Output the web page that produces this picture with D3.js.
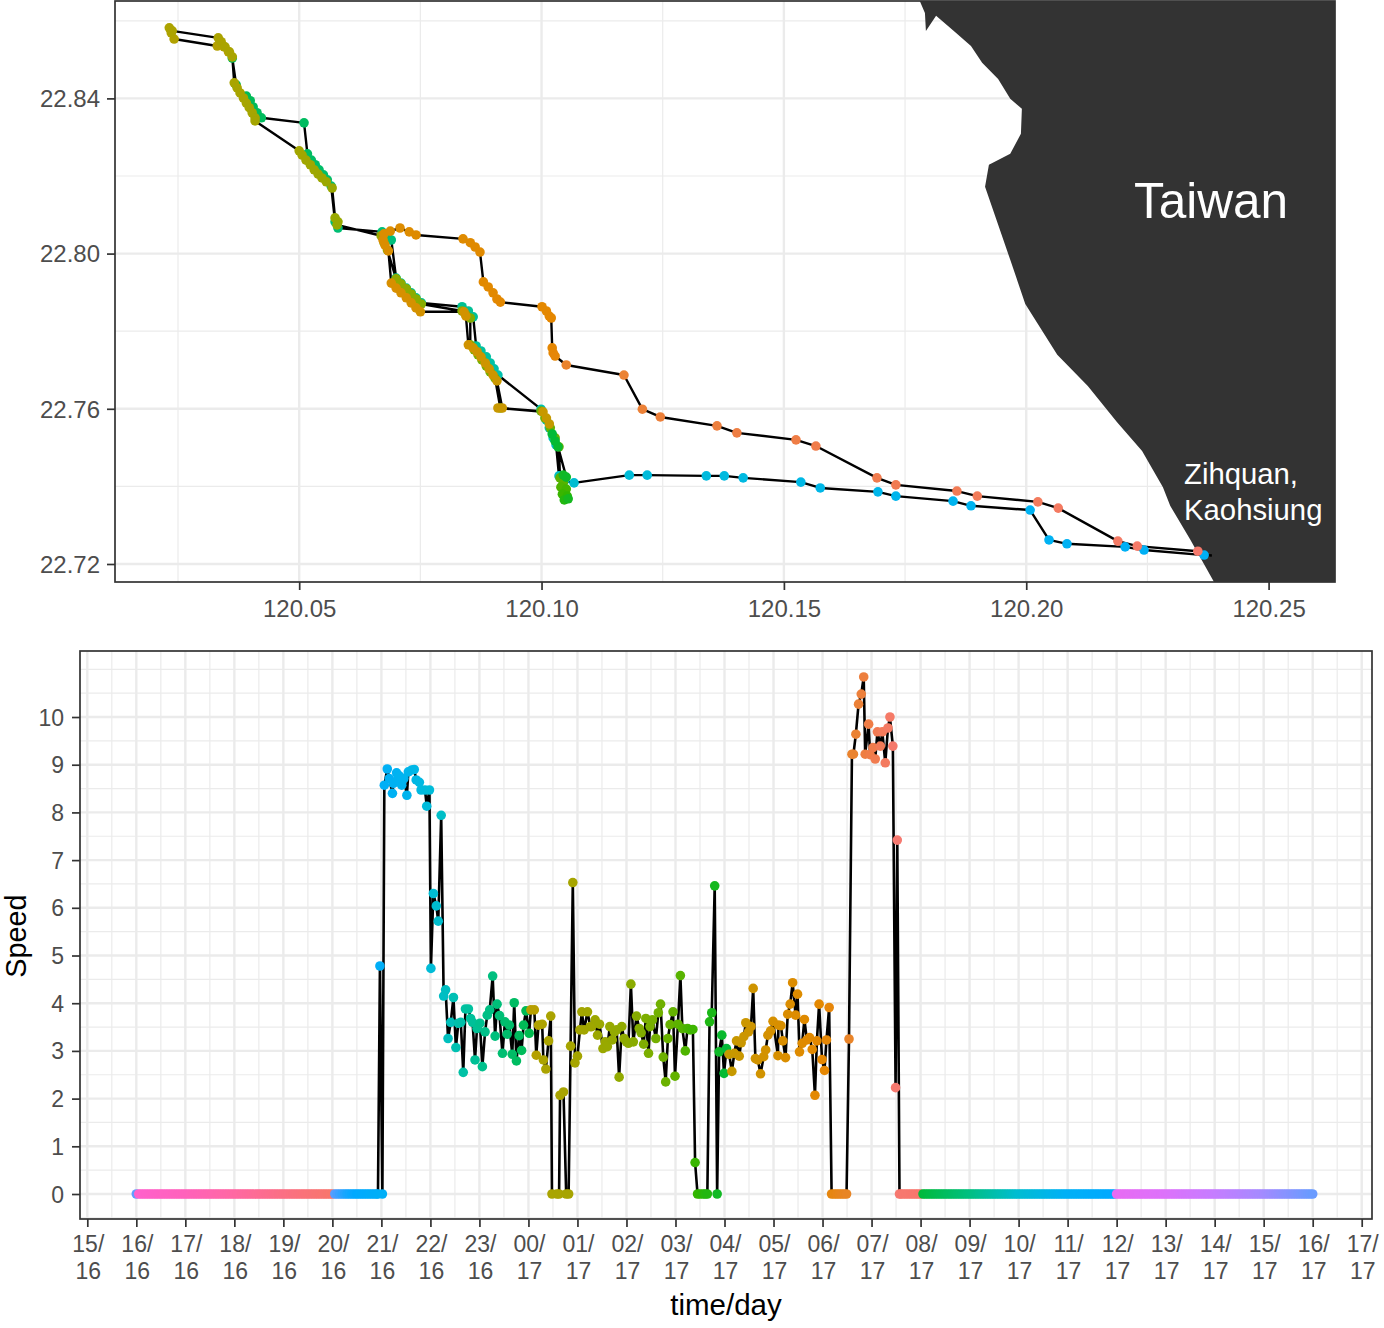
<!DOCTYPE html>
<html>
<head>
<meta charset="utf-8">
<style>
  html, body { margin: 0; padding: 0; background: #fff; }
  svg { display: block; }
  text { font-family: "Liberation Sans", Arial, sans-serif; }
</style>
</head>
<body>
<svg id="chart" width="1384" height="1328"></svg>
<script src="https://cdn.jsdelivr.net/npm/d3@7"></script>
<script>
// tick labels, hour/day
var hourLabels = ["15/","16/","17/","18/","19/","20/","21/","22/","23/","00/","01/","02/","03/","04/","05/","06/","07/","08/","09/","10/","11/","12/","13/","14/","15/","16/","17/"];
var dayLabels = ["16","16","16","16","16","16","16","16","16","17","17","17","17","17","17","17","17","17","17","17","17","17","17","17","17","17","17"];
var lonTicks = [120.05, 120.10, 120.15, 120.20, 120.25];
var latTicks = [22.72, 22.76, 22.80, 22.84];
var speedTicks = [0, 1, 2, 3, 4, 5, 6, 7, 8, 9, 10];

// hours counted from 15:00 on the 16th. colour follows the hour
var colorHours = [1, 1.01, 2, 3, 4, 5, 5.001, 5.3, 5.5, 6.5, 7, 7.7, 8.3, 9.02, 9.021, 9.3, 10, 11, 12, 12.5, 13.05, 13.051, 14, 15, 15.5, 16, 16.5, 17, 17.001, 18, 19, 20, 20.99, 21, 22, 23, 24, 25];
var colorValues = ["#619cff", "#ff61cc", "#ff62bc", "#ff67a4", "#fb6f85", "#f8766d", "#619cff", "#19a6ff", "#00a9ff", "#00b4ef", "#00bcd8", "#00c1a3", "#00bf7d", "#00ba50", "#bb9d00", "#aca300", "#a5a500", "#8fab00", "#62b200", "#2fb600", "#00ba38", "#c49a00", "#d69000", "#e58700", "#e88526", "#f07c4a", "#f67970", "#f8766d", "#00ba38", "#00bf7d", "#00bdd0", "#00b0f6", "#00a9ff", "#e76bf3", "#dd71fa", "#c77cff", "#a58aff", "#6a9bff"];

// coastline of Taiwan
var coastLon = [120.1779, 120.1791, 120.1793, 120.1814, 120.1853, 120.1886, 120.1909, 120.1942, 120.1967, 120.1991, 120.1989, 120.1967, 120.1923, 120.1915, 120.1967, 120.1998, 120.2064, 120.2127, 120.2187, 120.2239, 120.2282, 120.2297, 120.2338, 120.2389, 120.2640, 120.2640];
var coastLat = [22.8655, 22.8620, 22.8574, 22.8613, 22.8571, 22.8535, 22.8492, 22.8450, 22.8399, 22.8373, 22.8309, 22.8257, 22.8229, 22.8172, 22.7984, 22.7870, 22.7739, 22.7659, 22.7566, 22.7491, 22.7398, 22.7350, 22.7264, 22.7150, 22.7150, 22.8655];

// ship track
var trackLon = [120.2367, 120.2243, 120.2204, 120.2084, 120.2047, 120.2008, 120.1886, 120.1849, 120.1731, 120.1694, 120.1575, 120.1535, 120.1416, 120.1377, 120.1340, 120.1218, 120.1181, 120.1067, 120.1047, 120.1036, 120.1030, 120.1024, 120.1016, 120.1010, 120.0999,
  120.0910, 120.0902, 120.0894, 120.0886, 120.0875, 120.0865, 120.0859, 120.0849, 120.0836, 120.0752, 120.0741, 120.0731, 120.0721, 120.0710, 120.0700, 120.0690, 120.0682, 120.0671, 120.0580, 120.0574,
  120.0566, 120.0558, 120.0550, 120.0541, 120.0533, 120.0525, 120.0517, 120.0510, 120.0422, 120.0413, 120.0405, 120.0399, 120.0391, 120.0370, 120.0362, 120.0354, 120.0345, 120.0331, 120.0242, 120.0236, 120.0232, 120.0238,
  120.0333, 120.0339, 120.0347, 120.0356, 120.0362, 120.0366, 120.0372, 120.0378, 120.0385, 120.0391, 120.0397, 120.0403, 120.0409, 120.0409, 120.0500, 120.0506, 120.0514, 120.0523, 120.0531, 120.0539, 120.0547, 120.0556, 120.0568, 120.0574, 120.0580, 120.0578,
  120.0669, 120.0675, 120.0682, 120.0700, 120.0710, 120.0721, 120.0731, 120.0741, 120.0752, 120.0836, 120.0844, 120.0853, 120.0853, 120.0861, 120.0869, 120.0877, 120.0886, 120.0894, 120.0904, 120.0915, 120.0999, 120.1007, 120.1018, 120.1028, 120.1036,
  120.1038, 120.1045, 120.1040, 120.1051, 120.1043, 120.1053, 120.1047, 120.1055, 120.1045, 120.1051, 120.1034, 120.1028, 120.1022, 120.1016, 120.1010, 120.1003, 120.0910, 120.0919,
  120.0908, 120.0900, 120.0892, 120.0884, 120.0875, 120.0867, 120.0859, 120.0849, 120.0844, 120.0840, 120.0750, 120.0741, 120.0731, 120.0721, 120.0710, 120.0700, 120.0690, 120.0684, 120.0677, 120.0673, 120.0675, 120.0688, 120.0708, 120.0727, 120.0741,
  120.0838, 120.0853, 120.0863, 120.0873, 120.0880, 120.0890, 120.0900, 120.0908, 120.0915, 120.1001, 120.1010, 120.1016, 120.1020, 120.1022, 120.1024, 120.1028, 120.1051, 120.1170, 120.1208, 120.1245, 120.1362, 120.1403, 120.1525, 120.1566, 120.1692, 120.1731, 120.1857, 120.1899, 120.2024, 120.2066, 120.2189, 120.2229, 120.2354];
var trackLat = [22.7223, 22.7236, 22.7244, 22.7252, 22.7262, 22.7339, 22.7350, 22.7362, 22.7375, 22.7386, 22.7396, 22.7411, 22.7422, 22.7427, 22.7427, 22.7429, 22.7429, 22.7409, 22.7414, 22.7427, 22.7507, 22.7525, 22.7551, 22.7571, 22.7599,
  22.7687, 22.7703, 22.7718, 22.7734, 22.7749, 22.7762, 22.7837, 22.7852, 22.7863, 22.7873, 22.7886, 22.7899, 22.7911, 22.7924, 22.7937, 22.8035, 22.8046, 22.8056, 22.8066, 22.8082,
  22.8174, 22.8190, 22.8203, 22.8216, 22.8229, 22.8241, 22.8257, 22.8337, 22.8350, 22.8363, 22.8378, 22.8394, 22.8406, 22.8435, 22.8504, 22.8520, 22.8533, 22.8535, 22.8553, 22.8569, 22.8582, 22.8574,
  22.8556, 22.8546, 22.8533, 22.8520, 22.8507, 22.8440, 22.8427, 22.8414, 22.8401, 22.8388, 22.8376, 22.8363, 22.8350, 22.8342, 22.8265, 22.8254, 22.8241, 22.8229, 22.8216, 22.8205, 22.8195, 22.8185, 22.8169, 22.8092, 22.8082, 22.8074,
  22.8046, 22.8028, 22.8009, 22.7935, 22.7922, 22.7909, 22.7896, 22.7883, 22.7870, 22.7852, 22.7842, 22.7834, 22.7765, 22.7752, 22.7739, 22.7726, 22.7710, 22.7695, 22.7679, 22.7602, 22.7594, 22.7576, 22.7551, 22.7525, 22.7502,
  22.7422, 22.7411, 22.7398, 22.7393, 22.7380, 22.7375, 22.7365, 22.7368, 22.7429, 22.7424, 22.7502, 22.7517, 22.7535, 22.7561, 22.7576, 22.7592, 22.7602, 22.7602,
  22.7672, 22.7687, 22.7703, 22.7718, 22.7734, 22.7747, 22.7757, 22.7765, 22.7839, 22.7850, 22.7850, 22.7860, 22.7873, 22.7886, 22.7899, 22.7911, 22.7924, 22.8007, 22.8022, 22.8035, 22.8051, 22.8058, 22.8066, 22.8056, 22.8048,
  22.8038, 22.8028, 22.8017, 22.8004, 22.7927, 22.7914, 22.7899, 22.7883, 22.7875, 22.7863, 22.7852, 22.7839, 22.7834, 22.7757, 22.7744, 22.7736, 22.7713, 22.7687, 22.7599, 22.7579, 22.7556, 22.7538, 22.7520, 22.7504, 22.7422, 22.7404, 22.7388, 22.7375, 22.7360, 22.7344, 22.7259, 22.7246, 22.7233];
var trackHours = [6.05, 6.1, 6.15, 6.22, 6.28, 6.34, 6.42, 6.48, 6.55, 6.6, 6.67, 6.72, 6.8, 6.85, 6.9, 6.95, 7.0, 7.1, 7.15, 7.25, 7.3, 7.35, 7.4, 7.45, 7.5,
  7.55, 7.6, 7.65, 7.7, 7.75, 7.8, 7.85, 7.9, 7.95, 8.0, 8.05, 8.1, 8.15, 8.2, 8.25, 8.3, 8.35, 8.4, 8.45, 8.5,
  8.55, 8.58, 8.61, 8.64, 8.67, 8.7, 8.73, 8.76, 8.79, 8.82, 8.85, 8.88, 8.91, 8.95, 8.98, 9.05, 9.1, 9.15, 9.2, 9.25, 9.3, 9.35,
  9.4, 9.45, 9.5, 9.55, 9.6, 9.65, 9.7, 9.75, 9.8, 9.85, 9.9, 9.95, 10.0, 10.05, 10.1, 10.15, 10.2, 10.25, 10.3, 10.35, 10.4, 10.45, 10.5, 10.55, 10.6, 10.65,
  10.7, 10.8, 10.85, 10.9, 10.95, 11.0, 11.05, 11.1, 11.15, 11.2, 11.25, 11.3, 11.35, 11.4, 11.45, 11.5, 11.55, 11.6, 11.65, 11.7, 11.75, 11.8, 11.85, 11.95, 12.0,
  12.05, 12.1, 12.2, 12.3, 12.4, 12.5, 12.65, 12.8, 12.85, 12.9, 12.95, 13.0, 13.04, 13.1, 13.15, 13.2, 13.25, 13.3,
  13.35, 13.4, 13.45, 13.5, 13.55, 13.6, 13.65, 13.7, 13.75, 13.8, 13.85, 13.9, 13.95, 14.0, 14.05, 14.1, 14.15, 14.2, 14.25, 14.3, 14.35, 14.4, 14.45, 14.5, 14.55,
  14.6, 14.63, 14.66, 14.7, 14.75, 14.78, 14.81, 14.84, 14.87, 14.9, 14.93, 14.96, 15.0, 15.03, 15.06, 15.09, 15.6, 15.68, 15.73, 15.78, 15.84, 15.9, 15.95, 16.0, 16.05, 16.1, 16.15, 16.2, 16.25, 16.3, 16.35, 16.4, 16.45];
// the line runs a little past the last dot at the harbour
var harbourLon = 120.2383;
var harbourLat = 22.7222;

// moored before and after the trip, speed 0
var mooredBefore = [1.00, 1.05, 1.10, 1.15, 1.20, 1.25, 1.30, 1.35, 1.40, 1.45, 1.50, 1.55, 1.60, 1.65, 1.70, 1.75, 1.80, 1.85, 1.90, 1.95, 2.00, 2.05, 2.10, 2.15, 2.20, 2.25, 2.30, 2.35, 2.40, 2.45, 2.50, 2.55, 2.60, 2.65, 2.70, 2.75, 2.80, 2.85, 2.90, 2.95, 3.00, 3.05, 3.10, 3.15, 3.20, 3.25, 3.30, 3.35, 3.40, 3.45, 3.50, 3.55, 3.60, 3.65, 3.70, 3.75, 3.80, 3.85, 3.90, 3.95, 4.00, 4.05, 4.10, 4.15, 4.20, 4.25, 4.30, 4.35, 4.40, 4.45, 4.50, 4.55, 4.60, 4.65, 4.70, 4.75, 4.80, 4.85, 4.90, 4.95, 5.00, 5.05, 5.10, 5.15, 5.20, 5.25, 5.30, 5.35, 5.40, 5.45, 5.50, 5.55, 5.60, 5.65, 5.70, 5.75, 5.80, 5.85, 5.90, 5.93];
var mooredAfter = [16.60, 16.65, 16.70, 16.75, 16.80, 16.85, 16.90, 16.95, 17.00, 17.05, 17.10, 17.15, 17.20, 17.25, 17.30, 17.35, 17.40, 17.45, 17.50, 17.55, 17.60, 17.65, 17.70, 17.75, 17.80, 17.85, 17.90, 17.95, 18.00, 18.05, 18.10, 18.15, 18.20, 18.25, 18.30, 18.35, 18.40, 18.45, 18.50, 18.55, 18.60, 18.65, 18.70, 18.75, 18.80, 18.85, 18.90, 18.95, 19.00, 19.05, 19.10, 19.15, 19.20, 19.25, 19.30, 19.35, 19.40, 19.45, 19.50, 19.55, 19.60, 19.65, 19.70, 19.75, 19.80, 19.85, 19.90, 19.95, 20.00, 20.05, 20.10, 20.15, 20.20, 20.25, 20.30, 20.35, 20.40, 20.45, 20.50, 20.55, 20.60, 20.65, 20.70, 20.75, 20.80, 20.85, 20.90, 20.95, 21.00, 21.05, 21.10, 21.15, 21.20, 21.25, 21.30, 21.35, 21.40, 21.45, 21.50, 21.55, 21.60, 21.65, 21.70, 21.75, 21.80, 21.85, 21.90, 21.95, 22.00, 22.05, 22.10, 22.15, 22.20, 22.25, 22.30, 22.35, 22.40, 22.45, 22.50, 22.55, 22.60, 22.65, 22.70, 22.75, 22.80, 22.85, 22.90, 22.95, 23.00, 23.05, 23.10, 23.15, 23.20, 23.25, 23.30, 23.35, 23.40, 23.45, 23.50, 23.55, 23.60, 23.65, 23.70, 23.75, 23.80, 23.85, 23.90, 23.95, 24.00, 24.05, 24.10, 24.15, 24.20, 24.25, 24.30, 24.35, 24.40, 24.45, 24.50, 24.55, 24.60, 24.65, 24.70, 24.75, 24.80, 24.85, 24.90, 24.95, 25.00];

// speed while under way
var tripHours = [5.97, 6.02, 6.06, 6.12, 6.16, 6.225, 6.245, 6.31, 6.33, 6.37, 6.415, 6.46, 6.52, 6.55, 6.62, 6.67, 6.71, 6.775, 6.81, 6.89, 6.925, 6.98, 7.01, 7.06, 7.12, 7.16, 7.22, 7.27, 7.31, 7.36, 7.415, 7.47, 7.52, 7.57, 7.62, 7.67, 7.715, 7.775, 7.82, 7.86, 7.91, 7.95, 8.01, 8.06, 8.115, 8.16, 8.21, 8.27, 8.32, 8.36, 8.41, 8.47, 8.52, 8.565, 8.61, 8.67, 8.71, 8.755, 8.81, 8.86, 8.90, 8.95, 9.015,
  9.05, 9.12, 9.16, 9.205, 9.28, 9.305, 9.355, 9.41, 9.455, 9.48, 9.58, 9.625, 9.645, 9.715, 9.77, 9.82, 9.86, 9.905, 9.95, 10.0, 10.05, 10.09, 10.135, 10.205, 10.26, 10.29, 10.36, 10.41, 10.45, 10.52, 10.565, 10.61, 10.66, 10.71, 10.755, 10.80, 10.85, 10.905, 10.95, 11.0, 11.04, 11.09, 11.14, 11.205, 11.26, 11.30, 11.35, 11.395, 11.45, 11.48, 11.53, 11.60, 11.65, 11.695, 11.75, 11.80, 11.845, 11.89, 11.95, 11.99, 12.05, 12.10, 12.14, 12.2, 12.245, 12.30, 12.355, 12.40, 12.45, 12.50, 12.56, 12.605, 12.65, 12.695, 12.74, 12.80, 12.85, 12.89, 12.945, 12.99, 13.04,
  13.095, 13.15, 13.20, 13.245, 13.30, 13.34, 13.395, 13.435, 13.49, 13.54, 13.585, 13.63, 13.68, 13.735, 13.80, 13.84, 13.885, 13.94, 13.99, 14.09, 14.10, 14.15, 14.19, 14.245, 14.29, 14.34, 14.39, 14.45, 14.49, 14.53, 14.585, 14.63, 14.68, 14.735, 14.79, 14.845, 14.885, 14.93, 14.99, 15.04, 15.08, 15.135, 15.185, 15.24, 15.29, 15.34, 15.39, 15.44, 15.49, 15.54,
  15.60, 15.63, 15.68, 15.735, 15.79, 15.84, 15.87, 15.94, 15.97, 16.03, 16.075, 16.12, 16.18, 16.22, 16.28, 16.335, 16.375, 16.435, 16.49, 16.525, 16.57];
var tripSpeeds = [4.78, 0, 8.57, 8.91, 8.71, 8.40, 8.61, 8.83, 8.68, 8.76, 8.57, 8.71, 8.36, 8.85, 8.89, 8.90, 8.68, 8.63, 8.47, 8.47, 8.13, 8.47, 4.73, 6.30, 6.04, 5.72, 7.94, 4.15, 4.28, 3.26, 3.60, 4.12, 3.07, 3.58, 3.60, 2.55, 3.88, 3.88, 3.68, 3.60, 2.81, 3.47, 3.58, 2.67, 3.40, 3.75, 3.86, 4.57, 3.31, 3.98, 3.74, 2.95, 3.61, 3.35, 3.54, 2.93, 4.01, 2.79, 3.32, 3.01, 3.54, 3.84, 3.37,
  3.86, 3.86, 2.91, 3.54, 3.56, 2.81, 2.62, 3.21, 3.73, 0, 0, 0, 2.07, 2.14, 0, 0, 3.10, 6.53, 2.75, 2.89, 3.44, 3.82, 3.44, 3.82, 3.51, 3.51, 3.65, 3.33, 3.56, 3.05, 3.19, 3.09, 3.51, 3.23, 3.40, 3.44, 2.45, 3.51, 3.26, 3.19, 3.16, 4.40, 3.19, 3.73, 3.47, 3.38, 3.14, 3.68, 2.95, 3.51, 3.65, 3.26, 3.80, 3.98, 2.87, 2.35, 3.26, 3.55, 3.82, 2.47, 3.56, 4.58, 3.47, 3.0, 3.47, 3.44, 3.45, 0.66, 0, 0, 0, 0, 0, 3.61, 3.80, 6.46, 0, 2.98, 3.33, 2.53, 3.05,
  2.93, 2.57, 2.95, 3.21, 2.89, 3.17, 3.30, 3.59, 3.40, 3.51, 4.31, 2.84, 2.81, 2.52, 2.88, 3.02, 3.33, 3.42, 3.62, 2.90, 3.54, 3.53, 3.21, 2.86, 3.77, 3.98, 4.43, 3.75, 4.19, 2.98, 3.16, 3.66, 3.23, 3.28, 3.03, 2.07, 3.21, 3.98, 2.82, 2.59, 3.23, 3.91, 0, 0, 0, 0, 0, 0, 0, 3.25,
  9.22, 9.22, 9.64, 10.27, 10.48, 10.84, 9.22, 9.85, 9.21, 9.36, 9.12, 9.69, 9.39, 9.69, 9.04, 9.77, 10.0, 9.39, 2.23, 7.42, 0];

var svg = d3.select("#chart");

var hueScale = d3.scaleLinear()
    .domain(colorHours)
    .range(colorValues)
    .interpolate(d3.interpolateRgb)
    .clamp(true);

// ---- map panel
var mapLeft = 115, mapRight = 1335, mapTop = 1, mapBottom = 582;
var lonScale = d3.scaleLinear().domain([120.012, 120.2637]).range([mapLeft, mapRight]);
var latScale = d3.scaleLinear().domain([22.71536, 22.8651]).range([mapBottom, mapTop]);

var mapPanel = svg.append("g").attr("class", "map");

svg.append("clipPath").attr("id", "mapClip").append("rect")
    .attr("x", mapLeft).attr("y", mapTop)
    .attr("width", mapRight - mapLeft).attr("height", mapBottom - mapTop);

drawGrid(mapPanel, lonScale, latScale, [120.025, 120.075, 120.125, 120.175, 120.225], [22.74, 22.78, 22.82, 22.86], lonTicks, latTicks);

var coast = d3.range(coastLon.length).map(function(i) {
    return [lonScale(coastLon[i]), latScale(coastLat[i])];
});
mapPanel.append("path")
    .attr("clip-path", "url(#mapClip)")
    .attr("d", d3.line()(coast) + "Z")
    .attr("fill", "#333333");

var trackLine = d3.line()
    .x(function(d) { return lonScale(d[0]); })
    .y(function(d) { return latScale(d[1]); });

var trackPoints = trackLon.map(function(lon, i) {
    return [lon, trackLat[i], trackHours[i]];
});

mapPanel.append("path")
    .attr("d", trackLine([[harbourLon, harbourLat]].concat(trackPoints)))
    .attr("fill", "none")
    .attr("stroke", "#000")
    .attr("stroke-width", 2.4)
    .attr("stroke-linejoin", "round");

mapPanel.selectAll(".stop")
    .data(trackPoints)
    .enter().append("circle")
    .attr("class", "stop")
    .attr("cx", function(d) { return lonScale(d[0]); })
    .attr("cy", function(d) { return latScale(d[1]); })
    .attr("r", 4.8)
    .attr("fill", function(d) { return hueScale(d[2]); });

mapPanel.append("text")
    .attr("x", 1134).attr("y", 218)
    .attr("font-size", 49.5)
    .attr("fill", "#fff")
    .text("Taiwan");
mapPanel.append("text")
    .attr("x", 1184).attr("y", 484)
    .attr("font-size", 29.3)
    .attr("fill", "#fff")
    .text("Zihquan,");
mapPanel.append("text")
    .attr("x", 1184).attr("y", 520)
    .attr("font-size", 29.3)
    .attr("fill", "#fff")
    .text("Kaohsiung");

drawFrame(mapPanel, mapLeft, mapTop, mapRight, mapBottom);

var lonAxis = d3.axisBottom(lonScale)
    .tickValues(lonTicks)
    .tickSize(8)
    .tickFormat(d3.format(".2f"));
var lonGroup = mapPanel.append("g")
    .attr("transform", "translate(0," + mapBottom + ")")
    .call(lonAxis);
styleAxis(lonGroup);
lonGroup.selectAll("g.tick text").attr("dy", null).attr("y", 34.5);

var latAxis = d3.axisLeft(latScale)
    .tickValues(latTicks)
    .tickSize(8)
    .tickFormat(d3.format(".2f"));
var latGroup = mapPanel.append("g")
    .attr("transform", "translate(" + mapLeft + ",0)")
    .call(latAxis);
styleAxis(latGroup);
latGroup.selectAll("g.tick text").attr("x", -15).attr("dy", "0.35em");

// ---- speed panel
var speedLeft = 80, speedRight = 1372, speedTop = 651, speedBottom = 1219;
var hourScale = d3.scaleLinear().domain([-0.149, 26.21]).range([speedLeft, speedRight]);
var speedScale = d3.scaleLinear().domain([-0.524, 11.384]).range([speedBottom, speedTop]);

var speedPanel = svg.append("g").attr("class", "speed");

var hourTicks = d3.range(hourLabels.length);
var hourMinor = hourTicks.map(function(h) { return h + 0.5; });
var speedMinor = speedTicks.map(function(s) { return s - 0.5; }).concat([10.5, 11]);
drawGrid(speedPanel, hourScale, speedScale, hourMinor, speedMinor, hourTicks, speedTicks);

var readings = mooredBefore.map(function(h) { return [h, 0]; })
    .concat(tripHours.map(function(h, i) { return [h, tripSpeeds[i]]; }))
    .concat(mooredAfter.map(function(h) { return [h, 0]; }));

var speedLine = d3.line()
    .x(function(d) { return hourScale(d[0]); })
    .y(function(d) { return speedScale(d[1]); });

speedPanel.append("path")
    .attr("d", speedLine(readings))
    .attr("fill", "none")
    .attr("stroke", "#000")
    .attr("stroke-width", 2.6)
    .attr("stroke-linejoin", "round");

speedPanel.selectAll(".reading")
    .data(readings)
    .enter().append("circle")
    .attr("class", "reading")
    .attr("cx", function(d) { return hourScale(d[0]); })
    .attr("cy", function(d) { return speedScale(d[1]); })
    .attr("r", 4.8)
    .attr("fill", function(d) { return hueScale(d[0]); });

drawFrame(speedPanel, speedLeft, speedTop, speedRight, speedBottom);

var hourAxis = d3.axisBottom(hourScale)
    .tickValues(hourTicks)
    .tickSize(8)
    .tickFormat("");
var hourGroup = speedPanel.append("g")
    .attr("transform", "translate(0," + speedBottom + ")")
    .call(hourAxis);
styleAxis(hourGroup);
hourGroup.selectAll("g.tick text").each(function(h) {
    var label = d3.select(this).attr("y", null).attr("dy", null);
    label.append("tspan").attr("x", 0.5).attr("y", 33).text(hourLabels[h]);
    label.append("tspan").attr("x", 0.5).attr("y", 60).text(dayLabels[h]);
});
hourGroup.selectAll("g.tick text").attr("font-size", 23);

var speedAxis = d3.axisLeft(speedScale)
    .tickValues(speedTicks)
    .tickSize(8);
var speedGroup = speedPanel.append("g")
    .attr("transform", "translate(" + speedLeft + ",0)")
    .call(speedAxis);
styleAxis(speedGroup);
speedGroup.selectAll("g.tick text").attr("x", -16).attr("dy", "0.35em").attr("font-size", 23);

speedPanel.append("text")
    .attr("x", 726).attr("y", 1315)
    .attr("text-anchor", "middle")
    .attr("font-size", 29.5)
    .attr("fill", "#000")
    .text("time/day");
speedPanel.append("text")
    .attr("transform", "translate(26,936) rotate(-90)")
    .attr("text-anchor", "middle")
    .attr("font-size", 28.8)
    .attr("fill", "#000")
    .text("Speed");

function drawGrid(g, x, y, xMinor, yMinor, xMajor, yMajor) {
    var x0 = x.range()[0], x1 = x.range()[1], y0 = y.range()[0], y1 = y.range()[1];
    function rules(values, width, vertical) {
        g.append("g").selectAll("line")
            .data(values.filter(function(v) {
                var p = vertical ? x(v) : y(v);
                return vertical ? (p > x0 && p < x1) : (p < y0 && p > y1);
            }))
            .enter().append("line")
            .attr("x1", function(d) { return vertical ? x(d) : x0; })
            .attr("x2", function(d) { return vertical ? x(d) : x1; })
            .attr("y1", function(d) { return vertical ? y0 : y(d); })
            .attr("y2", function(d) { return vertical ? y1 : y(d); })
            .attr("stroke", "#ebebeb")
            .attr("stroke-width", width);
    }
    rules(xMinor, 1.2, true);
    rules(yMinor, 1.2, false);
    rules(xMajor, 2.4, true);
    rules(yMajor, 2.4, false);
}

function drawFrame(g, x0, y0, x1, y1) {
    g.append("rect")
        .attr("x", x0).attr("y", y0)
        .attr("width", x1 - x0).attr("height", y1 - y0)
        .attr("fill", "none")
        .attr("stroke", "#333333")
        .attr("stroke-width", 1.7);
}

function styleAxis(axis) {
    axis.attr("font-family", null).attr("font-size", null);
    axis.select(".domain").remove();
    axis.selectAll("g.tick line").attr("stroke", "#333333").attr("stroke-width", 1.7);
    axis.selectAll("g.tick text").attr("fill", "#4d4d4d").attr("font-size", 24);
}
</script>
</body>
</html>
